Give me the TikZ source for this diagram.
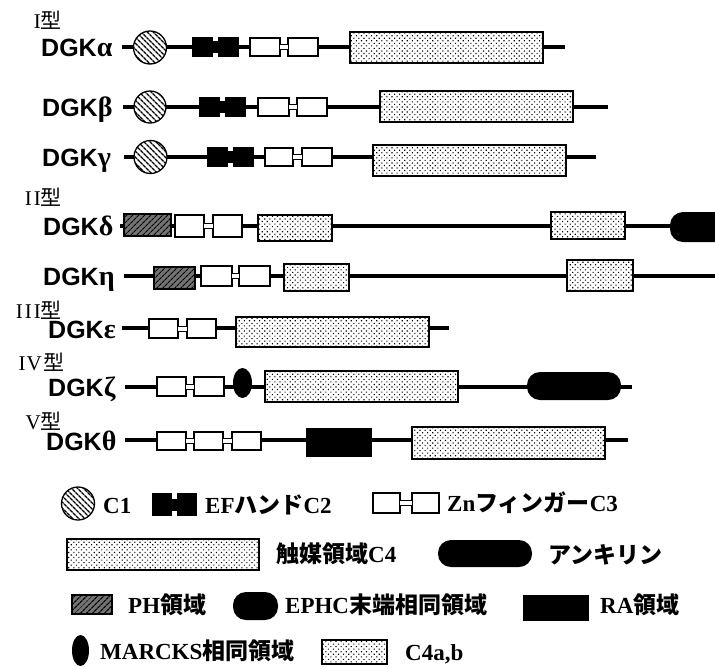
\documentclass[tikz,border=0pt]{standalone}
\usepackage{fontspec}
\setmainfont{Liberation Serif}
\newfontfamily\jp{Noto Sans CJK JP}
\newfontfamily\hv{Liberation Sans}
\usetikzlibrary{patterns,patterns.meta,shapes.geometric}
\newcommand\J[1]{{\jp\bfseries #1}}
\newcommand\dbox[6]{\node[#1,minimum width={(#4)-(#3)},minimum height={(#6)-(#5)}] (#2) at ({((#3)+(#4))/2},{((#5)+(#6))/2}) {};}
\newcommand\efhand[5]{%
 \pgfmathsetmacro\efw{((#3)-(#2)-5)/2}%
 \dbox{efbox}{#1a}{#2}{#2+\efw}{#4}{#5}%
 \dbox{efbox}{#1b}{#3-\efw}{#3}{#4}{#5}%
 \fill ([yshift=6pt]#1a.east) rectangle ([yshift=-6pt]#1b.west);}
\newcommand\znj[2]{%
 \fill[white] ([yshift=2.5pt]#1.east) rectangle ([yshift=-2.5pt]#2.west);
 \draw[line width=1pt] ([yshift=2.5pt]#1.east) -- ([yshift=2.5pt]#2.west);
 \draw[line width=1pt] ([yshift=-2.5pt]#1.east) -- ([yshift=-2.5pt]#2.west);}
\tikzset{
 bb/.style={line width=3.8pt},
 dom/.style={draw, line width=1.3pt, inner sep=0, outer sep=0},
 c4/.style={dom, preaction={fill=white}, pattern={Dots[angle=45,distance=3.6pt,radius=0.8pt]}, pattern color=black},
 zn/.style={dom, fill=white},
 ph/.style={dom, preaction={fill=black!55}, pattern={Lines[angle=45,distance=4pt,line width=1.2pt]}, pattern color=black},
 c1/.style={circle, dom, preaction={fill=white}, pattern={Lines[angle=-45,distance=4pt,line width=1.5pt]}, pattern color=black},
 efbox/.style={fill=black, inner sep=0, outer sep=0},
 ra/.style={fill=black, inner sep=0},
 stad/.style={fill=black, inner sep=0, rounded corners=13pt},
 mk/.style={ellipse, fill=black, inner sep=0},
 lab/.style={anchor=base west, inner sep=0, font=\hv\bfseries\fontsize{25}{27}\selectfont},
 typ/.style={anchor=base east, inner sep=0, font=\fontsize{21}{24}\selectfont},
 leg/.style={anchor=base west, inner sep=0, font=\bfseries\fontsize{23}{26}\selectfont},
}
\newcommand\gr[1]{{\rmfamily\bfseries\fontsize{28}{30}\selectfont #1}}
\begin{document}
\begin{tikzpicture}[x=1pt,y=-1pt]
\useasboundingbox[fill=white] (0,0) rectangle (715,667);
% type labels
\node[typ] (t1) at (62,28) {I\J{\mdseries 型}};
\node[typ] (t2) at (62,205) {I\kern2pt I\J{\mdseries 型}};
\node[typ] (t3) at (62,318) {I\kern2pt I\kern2pt I\J{\mdseries 型}};
\node[typ] (t4) at (65,370) {I\kern1pt V\kern2pt\J{\mdseries 型}};
\node[typ] (t5) at (62,429) {V\J{\mdseries 型}};
% DGK labels
\node[lab] (la) at (41,56) {DGK\gr{α}};
\node[lab] (lb) at (42,116) {DGK\gr{β}};
\node[lab] (lg) at (42,166) {DGK\gr{γ}};
\node[lab] (ld) at (43,235) {DGK\gr{δ}};
\node[lab] (lh) at (43,285) {DGK\gr{η}};
\node[lab] (le) at (48,338) {DGK\gr{ε}};
\node[lab] (lz) at (48,396) {DGK\gr{ζ}};
\node[lab] (lt) at (46,450) {DGK\gr{θ}};
% alpha
\coordinate (a0) at (122,47); \coordinate (a1) at (565,47);
\draw[bb] (a0) -- (a1);
\node[c1,minimum size=33] (ac1) at (150,47.5) {};
\efhand{aef}{192}{239}{37}{57}
\dbox{zn}{az1}{250}{280}{38}{56} \dbox{zn}{az2}{288}{318}{38}{56} \znj{az1}{az2}
\dbox{c4}{ac4}{350}{543}{32}{63}
% beta
\coordinate (b0) at (123,107); \coordinate (b1) at (608,107);
\draw[bb] (b0) -- (b1);
\node[c1,minimum size=32] (bc1) at (150,107) {};
\efhand{bef}{199}{246}{97}{117}
\dbox{zn}{bz1}{258}{289}{98}{116} \dbox{zn}{bz2}{297}{327}{98}{116} \znj{bz1}{bz2}
\dbox{c4}{bc4}{380}{573}{91}{122}
% gamma
\coordinate (g0) at (124,157); \coordinate (g1) at (596,157);
\draw[bb] (g0) -- (g1);
\node[c1,minimum size=33] (gc1) at (150.5,157) {};
\efhand{gef}{207}{254}{147}{167}
\dbox{zn}{gz1}{265}{293}{148}{166} \dbox{zn}{gz2}{302}{332}{148}{166} \znj{gz1}{gz2}
\dbox{c4}{gc4}{373}{566}{145}{176}
% delta
\coordinate (d0) at (120,226); \coordinate (d1) at (720,226);
\draw[bb] (d0) -- (d1);
\dbox{ph}{dph}{124}{171}{214}{236}
\dbox{zn}{dz1}{175}{204}{215}{237} \dbox{zn}{dz2}{213}{242}{215}{237} \znj{dz1}{dz2}
\dbox{c4}{dc4a}{258}{332}{215}{241}
\dbox{c4}{dc4b}{551}{625}{212}{239}
\dbox{stad}{dep}{670}{760}{212}{242}
% eta
\coordinate (h0) at (124,276); \coordinate (h1) at (720,276);
\draw[bb] (h0) -- (h1);
\dbox{ph}{hph}{154}{195}{267}{289}
\dbox{zn}{hz1}{201}{232}{266}{286} \dbox{zn}{hz2}{239}{270}{266}{286} \znj{hz1}{hz2}
\dbox{c4}{hc4a}{284}{349}{264}{291}
\dbox{c4}{hc4b}{567}{633}{260}{291}
% epsilon
\coordinate (e0) at (122,328); \coordinate (e1) at (449,328);
\draw[bb] (e0) -- (e1);
\dbox{zn}{ez1}{149}{178}{319}{338} \dbox{zn}{ez2}{187}{216}{319}{338} \znj{ez1}{ez2}
\dbox{c4}{ec4}{236}{429}{317}{347}
% zeta
\coordinate (z0) at (125,387); \coordinate (z1) at (632,387);
\draw[bb] (z0) -- (z1);
\dbox{zn}{zz1}{157}{186}{377}{396} \dbox{zn}{zz2}{194}{224}{377}{396} \znj{zz1}{zz2}
\dbox{mk}{zmk}{233}{252}{368}{398}
\dbox{c4}{zc4}{265}{458}{371}{402}
\dbox{stad}{zan}{527}{621}{372}{400}
% theta
\coordinate (q0) at (125,440); \coordinate (q1) at (628,440);
\draw[bb] (q0) -- (q1);
\dbox{zn}{qz1}{157}{186}{432}{450} \dbox{zn}{qz2}{194}{223}{432}{450} \dbox{zn}{qz3}{232}{261}{432}{450}
\znj{qz1}{qz2} \znj{qz2}{qz3}
\dbox{ra}{qra}{306}{372}{428}{457}
\dbox{c4}{qc4}{412}{605}{427}{459}
% legend
\node[c1,minimum size=33] (lc1) at (78,503.5) {};
\node[leg] (tc1) at (103,513) {C1};
\efhand{lef}{152}{197}{493}{516}
\node[leg] (tef) at (205,513) {EF\J{ハンド}C2};
\dbox{zn}{lz1}{373}{400}{493}{513} \dbox{zn}{lz2}{412}{439}{493}{513} \znj{lz1}{lz2}
\node[leg] (tzn) at (447,511) {Zn\J{フィンガー}C3};
\dbox{c4}{lc4}{67}{259}{539}{570}
\node[leg] (tc4) at (276,562) {\J{触媒領域}C4};
\dbox{stad}{lan}{438}{532}{540}{567}
\node[leg] (tan) at (548,563) {\J{アンキリン}};
\dbox{ph}{lph}{72}{112}{595}{614}
\node[leg] (tph) at (128,613) {PH\J{領域}};
\dbox{stad}{lep}{233}{278}{592}{620}
\node[leg] (tep) at (285,613) {EPHC\J{末端相同領域}};
\dbox{ra}{lra}{523}{589}{595}{621}
\node[leg] (tra) at (600,613) {RA\J{領域}};
\dbox{mk}{lmk}{72}{89}{635}{666}
\node[leg] (tmk) at (100,659) {MARCKS\J{相同領域}};
\dbox{c4}{lcab}{322}{387}{640}{664}
\node[leg] (tab) at (405,660) {C4a,b};
\end{tikzpicture}
\end{document}
